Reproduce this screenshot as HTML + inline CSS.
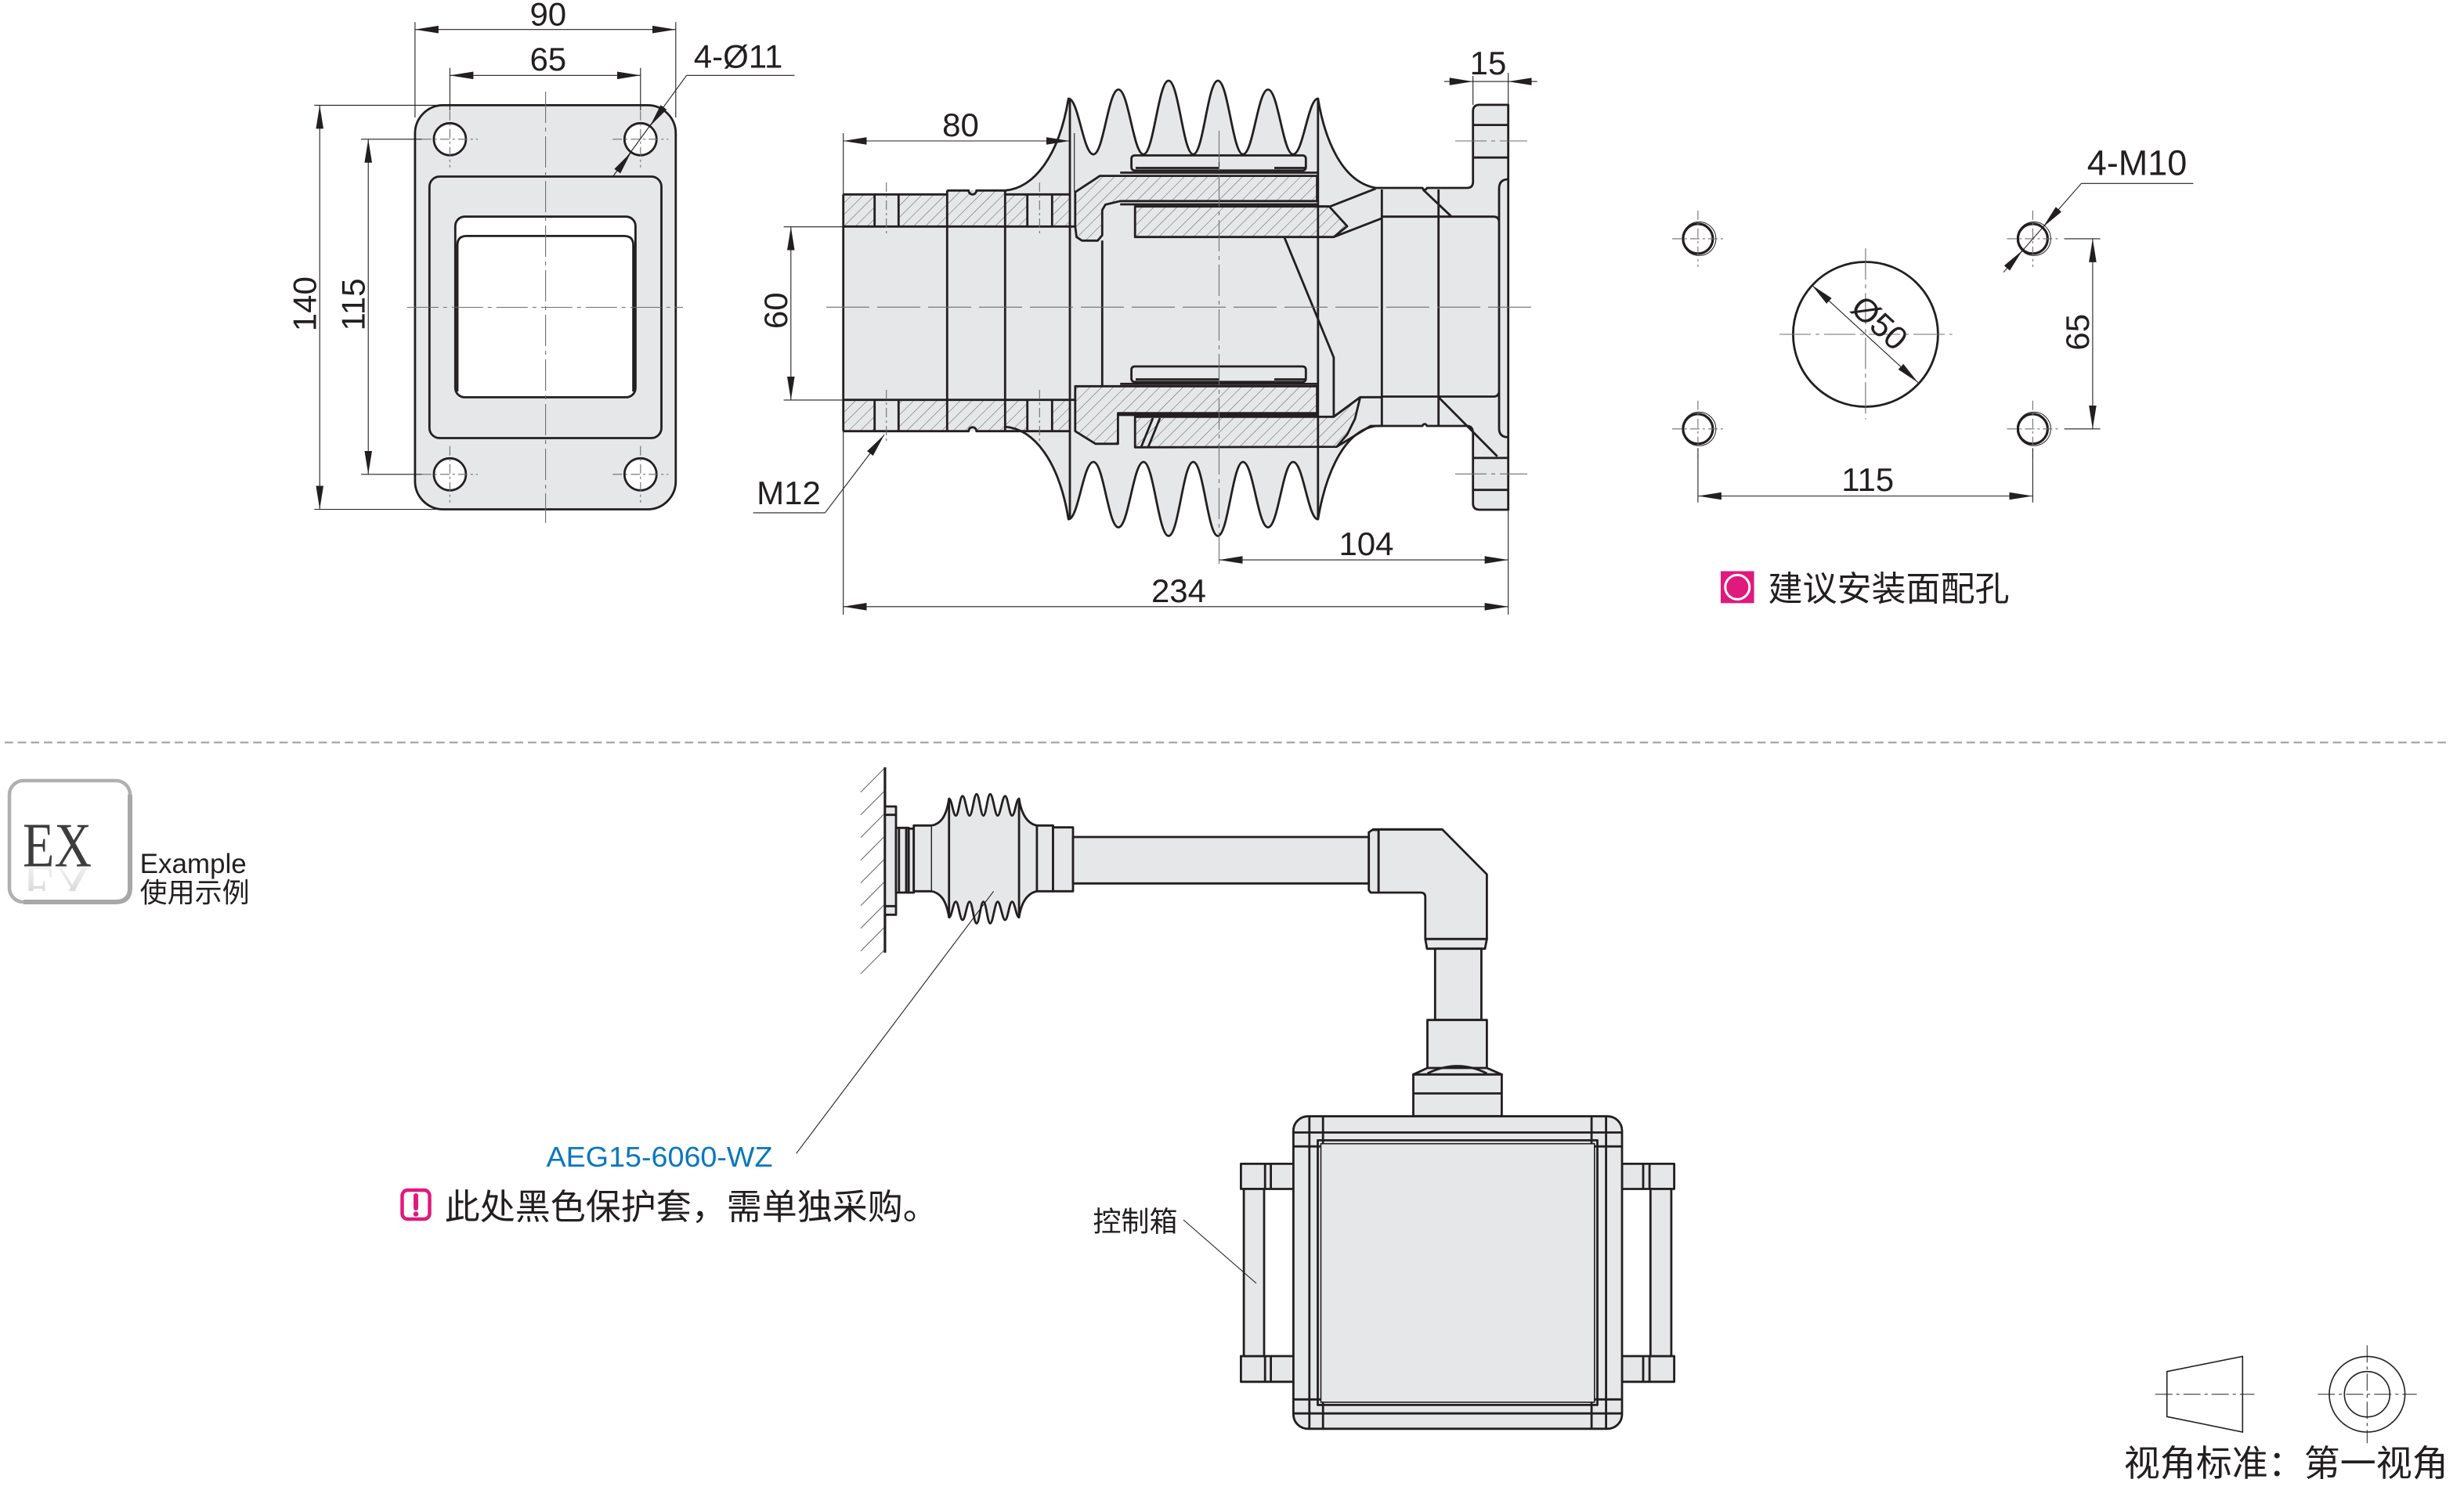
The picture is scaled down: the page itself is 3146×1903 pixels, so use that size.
<!DOCTYPE html>
<html><head><meta charset="utf-8"><style>
html,body{margin:0;padding:0;background:#fff;}
svg{display:block;}
text{font-family:"Liberation Sans","Noto Sans CJK SC",sans-serif;fill:#231f20;}
.K{fill:none;stroke:#231f20;stroke-width:2.8;stroke-linejoin:round}
.KG{fill:#e6e7e8;stroke:#231f20;stroke-width:2.8;stroke-linejoin:round}
.T{fill:none;stroke:#231f20;stroke-width:1.1}
.D{fill:none;stroke:#231f20;stroke-width:1.1;marker-start:url(#a);marker-end:url(#a)}
.E{fill:none;stroke:#231f20;stroke-width:1.1;marker-end:url(#a)}
.C{fill:none;stroke:#6d6e71;stroke-width:1.1;stroke-dasharray:40 6 5 6}
.S{fill:none;stroke:#6d6e71;stroke-width:1.1;stroke-dasharray:12 4 3 4}
.G{fill:#e6e7e8}
.H{fill:url(#h);stroke:none}
.dim{font-size:42px}
</style></head><body>
<svg width="3146" height="1903" viewBox="0 0 3146 1903" xmlns="http://www.w3.org/2000/svg">
<defs>
<marker id="a" viewBox="-30 -5 30 10" refX="0" refY="0" markerWidth="30" markerHeight="10" markerUnits="userSpaceOnUse" orient="auto-start-reverse"><path d="M0,0 L-30,-4.8 L-30,4.8 Z" fill="#231f20"/></marker>
<pattern id="h" width="10.5" height="10.5" patternUnits="userSpaceOnUse" patternTransform="rotate(45)"><line x1="0" y1="0" x2="0" y2="10.5" stroke="#58595b" stroke-width="1"/></pattern>
<linearGradient id="fade" x1="0" y1="0" x2="0" y2="1"><stop offset="0" stop-color="#bdbdbd"/><stop offset="1" stop-color="#ffffff"/></linearGradient>
<clipPath id="rc"><rect x="20" y="1108" width="140" height="30"/></clipPath>
</defs>

<!-- ================= FRONT VIEW ================= -->
<rect x="529.9" y="134.4" width="332.9" height="516.1" rx="36" class="KG"/>
<rect x="548.3" y="225.5" width="296.2" height="334" rx="13" class="K"/>
<rect x="581.3" y="276.7" width="230.1" height="230.7" rx="12" fill="#fff" stroke="#231f20" stroke-width="2.8"/>
<path d="M584,500 L584,313 Q584,301.4 596,301.4 L796.5,301.4 Q808.6,301.4 808.6,313 L808.6,500" class="K"/>
<circle cx="574.4" cy="177.8" r="20.5" fill="#fff" stroke="#231f20" stroke-width="2.8"/>
<circle cx="817.8" cy="177.8" r="20.5" fill="#fff" stroke="#231f20" stroke-width="2.8"/>
<circle cx="574.4" cy="605.8" r="20.5" fill="#fff" stroke="#231f20" stroke-width="2.8"/>
<circle cx="817.8" cy="605.8" r="20.5" fill="#fff" stroke="#231f20" stroke-width="2.8"/>
<path class="S" d="M538.8,177.8 H610 M574.4,141.8 V213.8 M782.2,177.8 H853.4 M817.8,141.8 V213.8 M538.8,605.8 H610 M574.4,569.8 V641.8 M782.2,605.8 H853.4 M817.8,569.8 V641.8"/>
<path class="C" d="M696.6,117 V668 M519.8,392.5 H872"/>
<!-- dims front -->
<path class="D" d="M529.9,37.7 H862.8"/>
<path class="T" d="M529.9,28.2 V150 M862.8,28.2 V150"/>
<text x="699.8" y="32.5" class="dim" text-anchor="middle">90</text>
<path class="D" d="M574.4,96.3 H817.8"/>
<path class="T" d="M574.4,86.7 V141 M817.8,86.7 V141"/>
<text x="699.8" y="89.8" class="dim" text-anchor="middle">65</text>
<text x="885.8" y="86.7" class="dim">4-Ø11</text>
<path class="T" d="M876.6,96.3 H1014.4 M876.6,96.3 L782.5,225.5"/>
<path class="E" d="M847.4,136.9 L829.8,161.2"/>
<path class="E" d="M788.2,218.7 L805.8,194.4"/>
<path class="D" d="M408.2,134.4 V650.5"/>
<path class="T" d="M401.3,134.4 H566 M401.3,650.5 H566"/>
<text transform="translate(403.6,388.2) rotate(-90)" class="dim" text-anchor="middle">140</text>
<path class="D" d="M470.2,177.8 V605.8"/>
<path class="T" d="M461,177.8 H538.8 M461,605.8 H538.8"/>
<text transform="translate(465.6,389) rotate(-90)" class="dim" text-anchor="middle">115</text>

<!-- ================= SIDE VIEW ================= -->
<!-- gray fills -->
<rect x="1076.7" y="248.3" width="289.3" height="302.4" class="G"/>
<rect x="1209.3" y="243.3" width="74" height="307.4" class="G"/>
<rect x="1283" y="243" width="474" height="302" class="G"/>
<path class="G" d="M1283.3,243.3 C1320,240 1352,200 1364.2,125.9 C1377,125.9 1383,197.1 1396.1,197.1 C1409,197.1 1415,114.4 1428,114.4 C1441,114.4 1447,197.1 1460,197.1 C1473,197.1 1479,103 1492,103 C1505,103 1510.5,197.1 1523.5,197.1 C1536.5,197.1 1542,103 1555,103 C1568,103 1574,197.1 1587,197.1 C1600,197.1 1606,114.4 1619,114.4 C1632,114.4 1638,197.1 1651,197.1 C1664,197.1 1670,125.9 1682.8,125.9 C1690,170 1710,232 1756.7,240 L1756.7,250 L1283.3,250 Z"/>
<path class="G" d="M1283.3,545 C1320,548 1352,588 1364.2,663.2 C1377,663.2 1383,590 1396.1,590 C1409,590 1415,673.5 1428,673.5 C1441,673.5 1447,590 1460,590 C1473,590 1479,684.5 1492,684.5 C1505,684.5 1510.5,590 1523.5,590 C1536.5,590 1542,684.5 1555,684.5 C1568,684.5 1574,590 1587,590 C1600,590 1606,673.5 1619,673.5 C1632,673.5 1638,590 1651,590 C1664,590 1670,663.2 1682.8,663.2 C1690,620 1710,551 1756.7,544 L1756.7,538 L1283.3,538 Z"/>
<path class="G" d="M1681.6,249 L1756.7,240 L1873.3,240 Q1880.7,240 1880.7,232 L1880.7,142 Q1880.7,133.9 1889,133.9 L1925.7,133.9 L1925.7,651 L1889,651 Q1880.7,651 1880.7,643 L1880.7,554 Q1880.7,544 1873.3,544 L1756.7,544 L1681.6,560 Z"/>
<!-- hatched -->
<g class="H">
<rect x="1076.7" y="248.3" width="40" height="41"/>
<rect x="1147.3" y="248.3" width="164.4" height="41"/>
<rect x="1343.3" y="248.3" width="22.7" height="41"/>
<rect x="1209.3" y="243.3" width="74" height="5"/>
<rect x="1076.7" y="510.7" width="40" height="40"/>
<rect x="1147.3" y="510.7" width="164.4" height="40"/>
<rect x="1343.3" y="510.7" width="22.7" height="40"/>
<path d="M1372.8,288.9 L1372.8,245.3 L1404.4,224.6 L1681.6,224.6 L1681.6,256.8 L1430.2,256.8 L1411.3,261.4 L1407.3,268.3 L1407.3,300.4 L1401.5,307.3 L1381.4,307.3 L1374.5,302.7 Z"/>
<path d="M1449.2,263.7 L1697.1,263.7 L1720.1,288.9 L1702.9,302.7 L1449.2,302.7 Z"/>
<path d="M1372.8,493.3 L1681.6,493.3 L1681.6,527.7 L1427.4,527.7 L1427.4,566.8 L1398.7,566.8 L1372.8,550.7 Z"/>
<path d="M1449.2,532.3 L1702.9,532.3 L1736.7,507.3 L1730,535 L1720,555 L1706.7,570.6 L1449.2,571.3 Z"/>
</g>
<!-- outlines of hatched parts -->
<path class="K" d="M1372.8,288.9 L1372.8,245.3 L1404.4,224.6 L1681.6,224.6 L1681.6,256.8 L1430.2,256.8 L1411.3,261.4 L1407.3,268.3 L1407.3,300.4 L1401.5,307.3 L1381.4,307.3 L1374.5,302.7 Z"/>
<path class="K" d="M1449.2,263.7 L1697.1,263.7 L1720.1,288.9 L1702.9,302.7 L1449.2,302.7 Z"/>
<path class="K" d="M1372.8,493.3 L1681.6,493.3 L1681.6,527.7 L1427.4,527.7 L1427.4,566.8 L1398.7,566.8 L1372.8,550.7 Z"/>
<path class="K" d="M1449.2,532.3 L1702.9,532.3 L1736.7,507.3 L1730,535 L1720,555 L1706.7,570.6 L1449.2,571.3 Z"/>
<path class="K" d="M1457,571 L1472,534 M1466,571 L1481,534" stroke-width="4"/>
<!-- bearings -->
<rect x="1444.6" y="198.5" width="222.7" height="19.3" rx="4" class="KG"/>
<rect x="1444.6" y="468" width="222.7" height="19.8" rx="4" class="KG"/>
<path class="T" d="M1556.5,198.5 V217.8 M1556.5,468 V487.8"/>
<path class="K" stroke-width="4.5" d="M1450,214.5 H1556 M1627,214.5 H1667 M1450,484.5 H1556 M1627,484.5 H1667"/>
<path class="K" stroke-width="3" d="M1430.2,220.5 H1681.6 M1430.2,261 H1681.6 M1430.2,490.3 H1681.6 M1427.4,530 H1681.6"/>
<!-- left tube lines -->
<path class="K" d="M1076.7,248.3 H1209.3 M1283.3,248.3 H1366 M1076.7,248.3 V550.7 M1076.7,550.7 H1209.3 M1283.3,550.7 H1366 M1076.7,289.3 H1372.8 M1076.7,510.7 H1372.8 M1116.7,248.3 V289.3 M1147.3,248.3 V289.3 M1311.7,248.3 V289.3 M1343.3,248.3 V289.3 M1116.7,510.7 V550.7 M1147.3,510.7 V550.7 M1311.7,510.7 V550.7 M1343.3,510.7 V550.7 M1209.3,243.3 V550.7 M1283.3,243.3 V550.7 M1366,125.9 V663.2 M1682.8,125.9 V663.2 M1407.3,307.3 V493.3"/>
<path class="K" d="M1209.3,243.3 H1236.7 A5,5 0 0 0 1246.7,243.3 H1283.3 M1209.3,550.7 H1236.7 A5,5 0 0 1 1246.7,550.7 H1283.3"/>
<path class="S" d="M1131.7,233 V302 M1327.3,233 V302 M1131.7,498 V565 M1327.3,498 V565"/>
<!-- bellows outline -->
<path class="K" d="M1283.3,243.3 C1320,240 1352,200 1364.2,125.9 C1377,125.9 1383,197.1 1396.1,197.1 C1409,197.1 1415,114.4 1428,114.4 C1441,114.4 1447,197.1 1460,197.1 C1473,197.1 1479,103 1492,103 C1505,103 1510.5,197.1 1523.5,197.1 C1536.5,197.1 1542,103 1555,103 C1568,103 1574,197.1 1587,197.1 C1600,197.1 1606,114.4 1619,114.4 C1632,114.4 1638,197.1 1651,197.1 C1664,197.1 1670,125.9 1682.8,125.9 C1690,170 1710,232 1756.7,240"/>
<path class="K" d="M1283.3,545 C1320,548 1352,588 1364.2,663.2 C1377,663.2 1383,590 1396.1,590 C1409,590 1415,673.5 1428,673.5 C1441,673.5 1447,590 1460,590 C1473,590 1479,684.5 1492,684.5 C1505,684.5 1510.5,590 1523.5,590 C1536.5,590 1542,684.5 1555,684.5 C1568,684.5 1574,590 1587,590 C1600,590 1606,673.5 1619,673.5 C1632,673.5 1638,590 1651,590 C1664,590 1670,663.2 1682.8,663.2 C1690,620 1710,551 1756.7,544"/>
<!-- right body -->
<path class="K" d="M1756.7,240 H1816 Q1819,245 1822,240 H1873.3 Q1880.7,240 1880.7,232 V142 Q1880.7,133.9 1889,133.9 H1925.7 V651 H1889 Q1880.7,651 1880.7,643 V554 Q1880.7,544 1873.3,544 H1822 Q1819,539 1816,544 H1756.7"/>
<path class="K" stroke-width="2.2" d="M1880.7,159.6 H1925.7 M1880.7,201.2 H1925.7 M1880.7,584.9 H1925.7 M1880.7,625.7 H1925.7"/>
<path class="K" d="M1764.3,242 V544 M1836.7,242 V544 M1764.3,276.7 H1906.7 Q1914,276.7 1914,284 M1764.3,506.5 H1906.7 Q1914,506.5 1914,499 M1925.7,229 Q1914,229 1914,241 V547 Q1914,558.4 1925.7,558.4 M1816.7,242 L1853.3,276.7 M1836.7,507.3 L1911.7,582.9 M1681.6,263.7 H1698.3 L1756.7,240.8 M1702.9,302.7 L1764.3,278.8 M1702.9,532.3 L1736.7,507.3 H1764.3 M1706.7,570.6 L1750,544 H1764.3 M1639.7,302.7 L1702.9,456.5 V532.3"/>
<path class="C" d="M1858,180 H1950 M1858,605.3 H1950 M1556.5,167 V723"/>
<path fill="none" stroke="#6d6e71" stroke-width="1.1" stroke-dasharray="55 10" d="M1055,392.3 H1955"/>
<!-- side dims -->
<path class="D" d="M1076.7,180 H1366"/>
<path class="T" d="M1076.7,170 V248 M1371.7,170 V245"/>
<text x="1226.5" y="174" class="dim" text-anchor="middle">80</text>
<path class="D" d="M1009.8,289.7 V510.9"/>
<path class="T" d="M1000.6,289.7 H1076.7 M1000.6,510.9 H1076.7"/>
<text transform="translate(1005.2,396.8) rotate(-90)" class="dim" text-anchor="middle">60</text>
<path class="E" d="M1844,104.1 H1880.7"/>
<path class="E" d="M1962.7,104.1 H1925.7"/>
<path class="T" d="M1880.7,104.1 H1925.7 M1880.7,97 V134 M1925.7,93 V134 M1925.7,651 V785 M1076.7,551 V785"/>
<text x="1900" y="95" class="dim" text-anchor="middle">15</text>
<path class="D" d="M1556.5,715.1 H1925.6"/>
<text x="1744.5" y="709" class="dim" text-anchor="middle">104</text>
<path class="D" d="M1076.7,774.8 H1925.6"/>
<text x="1505" y="768.8" class="dim" text-anchor="middle">234</text>
<text x="966.1" y="644" class="dim">M12</text>
<path class="T" d="M961.6,654.9 H1053.4"/>
<path class="E" d="M1053.4,654.9 L1129,555.3"/>

<!-- ================= MOUNTING HOLES VIEW ================= -->
<g>
<circle cx="2167.9" cy="304.9" r="19" fill="#fff" stroke="#231f20" stroke-width="3.2"/>
<circle cx="2169.4" cy="304.9" r="21.5" fill="none" stroke="#231f20" stroke-width="1"/>
<circle cx="2595.4" cy="304.9" r="19" fill="#fff" stroke="#231f20" stroke-width="3.2"/>
<circle cx="2596.9" cy="304.9" r="21.5" fill="none" stroke="#231f20" stroke-width="1"/>
<circle cx="2167.9" cy="547.8" r="19" fill="#fff" stroke="#231f20" stroke-width="3.2"/>
<circle cx="2169.4" cy="547.8" r="21.5" fill="none" stroke="#231f20" stroke-width="1"/>
<circle cx="2595.4" cy="547.8" r="19" fill="#fff" stroke="#231f20" stroke-width="3.2"/>
<circle cx="2596.9" cy="547.8" r="21.5" fill="none" stroke="#231f20" stroke-width="1"/>
<path class="S" d="M2134.9,304.9 H2200.9 M2167.9,268.9 V340.9 M2562.4,304.9 H2628.4 M2595.4,268.9 V340.9 M2134.9,547.8 H2200.9 M2167.9,511.8 V583.8 M2562.4,547.8 H2628.4 M2595.4,511.8 V583.8"/>
<circle cx="2381.9" cy="427" r="92.5" fill="none" stroke="#231f20" stroke-width="2.8"/>
<path class="C" d="M2272,427 H2492.6 M2381.9,317.2 V535.5"/>
<path class="D" d="M2313.3,364.1 L2449,488.6"/>
<text transform="translate(2390,423) rotate(42.5)" class="dim" text-anchor="middle">Ø50</text>
<text x="2664.7" y="223.3" font-size="45">4-M10</text>
<path class="T" d="M2657.4,234.3 H2800.4 M2657.4,234.3 L2558,347.8"/>
<path class="E" d="M2628.4,267.4 L2608.6,289.9"/>
<path class="E" d="M2562.4,342.4 L2582.2,319.9"/>
<path class="D" d="M2671.9,304.9 V547.8"/>
<path class="T" d="M2635.6,304.9 H2681.6 M2635.6,547.8 H2681.6 M2167.9,572.3 V641.7 M2595.4,572.3 V641.7"/>
<text transform="translate(2667,424.3) rotate(-90)" class="dim" text-anchor="middle">65</text>
<path class="D" d="M2167.9,633.5 H2595.4"/>
<text x="2384.7" y="627" class="dim" text-anchor="middle">115</text>
<rect x="2197" y="729.5" width="42.6" height="40.8" fill="#e0197d"/>
<circle cx="2218.3" cy="749.9" r="15.5" fill="none" stroke="#fff" stroke-width="3"/>
<text x="2257.5" y="767" font-size="44">建议安装面配孔</text>
</g>

<!-- separator -->
<path d="M6,948.3 H3125" stroke="#a0a0a0" stroke-width="2.2" stroke-dasharray="10.7 6" fill="none"/>

<!-- ================= EX ICON ================= -->
<rect x="12" y="997" width="154" height="155" rx="18" fill="#fff" stroke="#b0b0b0" stroke-width="4.5"/>
<path d="M166,1015 V1134 Q166,1152 148,1152 H30" fill="none" stroke="#a8a8a8" stroke-width="6"/>
<text x="29" y="1106.7" font-family="'Liberation Serif',serif" font-size="80" textLength="88" lengthAdjust="spacingAndGlyphs" style="font-family:'Liberation Serif',serif;fill:#3d3d3d">EX</text>
<g clip-path="url(#rc)"><text transform="translate(0,2213.4) scale(1,-1)" x="29" y="1106.7" font-size="80" textLength="88" lengthAdjust="spacingAndGlyphs" style="font-family:'Liberation Serif',serif;fill:url(#fade)">EX</text></g>
<text x="178.6" y="1115" font-size="35">Example</text>
<text x="178.6" y="1152.5" font-size="35">使用示例</text>

<!-- ================= ASSEMBLY ================= -->
<path d="M1129.9,980 V1216.7" stroke="#231f20" stroke-width="3.2" fill="none"/>
<path stroke="#58595b" stroke-width="1" fill="none" d="M1099,1011.7 L1128.8,981.7 M1099,1040.7 L1128.8,1010.7 M1099,1069.7 L1128.8,1039.7 M1099,1098.7 L1128.8,1068.7 M1099,1127.7 L1128.8,1097.7 M1099,1156.7 L1128.8,1126.7 M1099,1185.7 L1128.8,1155.7 M1099,1214.7 L1128.8,1184.7 M1099,1243.7 L1128.8,1213.7"/>
<rect x="1129.9" y="1030" width="14.1" height="138.3" class="KG"/>
<path class="K" stroke-width="2" d="M1129.9,1040.7 H1144 M1129.9,1157.3 H1144"/>
<rect x="1144" y="1057.3" width="16.2" height="82.7" class="KG"/>
<path class="K" stroke-width="1.8" d="M1147.8,1057.3 V1140 M1157,1057.3 V1140"/>
<rect x="1160.2" y="1058.3" width="6.5" height="81.7" class="KG"/>
<rect x="1166.7" y="1054.3" width="23.3" height="84" class="KG"/>
<!-- small bellows -->
<rect x="1190" y="1054" width="134" height="85" class="G"/>
<path class="G" d="M1190,1054.3 C1200,1052 1208,1045 1211.7,1020 C1215.2,1020 1216.9,1041.7 1220.4,1041.7 C1223.9,1041.7 1225.5,1016.7 1229,1016.7 C1232.5,1016.7 1234.5,1041.7 1238,1041.7 C1241.5,1041.7 1243.4,1014.3 1246.9,1014.3 C1250.4,1014.3 1252.1,1041.7 1255.6,1041.7 C1259.1,1041.7 1260.8,1014.3 1264.3,1014.3 C1267.8,1014.3 1270.3,1041.7 1273.8,1041.7 C1277.3,1041.7 1279.8,1016.7 1283.3,1016.7 C1286.8,1016.7 1288.7,1041.7 1292.2,1041.7 C1295.7,1041.7 1297.6,1020 1301.1,1020 C1304,1040 1312,1052 1323.9,1054.3 L1323.9,1060 L1190,1060 Z"/>
<path class="G" d="M1190,1138.3 C1200,1141 1208,1148 1211.7,1171.7 C1215.2,1171.7 1216.9,1151.7 1220.4,1151.7 C1223.9,1151.7 1225.5,1175 1229,1175 C1232.5,1175 1234.5,1151.7 1238,1151.7 C1241.5,1151.7 1243.4,1179.3 1246.9,1179.3 C1250.4,1179.3 1252.1,1151.7 1255.6,1151.7 C1259.1,1151.7 1260.8,1179.3 1264.3,1179.3 C1267.8,1179.3 1270.3,1151.7 1273.8,1151.7 C1277.3,1151.7 1279.8,1175 1283.3,1175 C1286.8,1175 1288.7,1151.7 1292.2,1151.7 C1295.7,1151.7 1297.6,1171.7 1301.1,1171.7 C1304,1152 1312,1141 1323.9,1138.3 L1323.9,1132 L1190,1132 Z"/>
<path class="K" d="M1190,1054.3 C1200,1052 1208,1045 1211.7,1020 C1215.2,1020 1216.9,1041.7 1220.4,1041.7 C1223.9,1041.7 1225.5,1016.7 1229,1016.7 C1232.5,1016.7 1234.5,1041.7 1238,1041.7 C1241.5,1041.7 1243.4,1014.3 1246.9,1014.3 C1250.4,1014.3 1252.1,1041.7 1255.6,1041.7 C1259.1,1041.7 1260.8,1014.3 1264.3,1014.3 C1267.8,1014.3 1270.3,1041.7 1273.8,1041.7 C1277.3,1041.7 1279.8,1016.7 1283.3,1016.7 C1286.8,1016.7 1288.7,1041.7 1292.2,1041.7 C1295.7,1041.7 1297.6,1020 1301.1,1020 C1304,1040 1312,1052 1323.9,1054.3"/>
<path class="K" d="M1190,1138.3 C1200,1141 1208,1148 1211.7,1171.7 C1215.2,1171.7 1216.9,1151.7 1220.4,1151.7 C1223.9,1151.7 1225.5,1175 1229,1175 C1232.5,1175 1234.5,1151.7 1238,1151.7 C1241.5,1151.7 1243.4,1179.3 1246.9,1179.3 C1250.4,1179.3 1252.1,1151.7 1255.6,1151.7 C1259.1,1151.7 1260.8,1179.3 1264.3,1179.3 C1267.8,1179.3 1270.3,1151.7 1273.8,1151.7 C1277.3,1151.7 1279.8,1175 1283.3,1175 C1286.8,1175 1288.7,1151.7 1292.2,1151.7 C1295.7,1151.7 1297.6,1171.7 1301.1,1171.7 C1304,1152 1312,1141 1323.9,1138.3"/>
<path class="K" d="M1211.7,1020 V1171.7 M1301.1,1020 V1171.7"/>
<rect x="1323.9" y="1054.3" width="20.6" height="84" class="KG"/>
<rect x="1344.5" y="1056.7" width="25.5" height="81.6" class="KG"/>
<rect x="1370" y="1069" width="377.7" height="59.3" class="KG"/>
<path class="KG" d="M1747.7,1063 L1752,1060 L1760.2,1060 L1760.2,1140 L1750,1140 L1747.7,1137 Z"/>
<path class="KG" d="M1760.2,1059.3 L1841.5,1059.3 L1898.4,1116.7 L1898.4,1199.3 L1819.8,1199.3 L1819.8,1146 Q1819.8,1140 1814,1140 L1760.2,1140 Z"/>
<path class="K" stroke-width="4.5" d="M1752,1059.3 H1841.5"/>
<path class="KG" d="M1819.8,1199.3 L1898.4,1199.3 L1896,1211.7 L1822,1211.7 Z"/>
<rect x="1832.3" y="1211.7" width="59.1" height="91" class="KG"/>
<rect x="1822.5" y="1302.7" width="75.9" height="67" class="KG"/>
<path class="KG" d="M1804.5,1372.3 L1822.5,1364 L1898.4,1364 L1917.4,1372.3 Z"/>
<path class="K" d="M1822.5,1371 Q1861,1352 1898.4,1371"/>
<rect x="1804.5" y="1372.3" width="112.9" height="53.4" class="KG"/>
<path class="K" d="M1804.5,1396.5 H1917.4"/>
<!-- control box -->
<rect x="1584.4" y="1486.4" width="67" height="32.1" class="KG"/>
<rect x="1584.4" y="1732" width="67" height="32.8" class="KG"/>
<rect x="1588.1" y="1518.5" width="25.9" height="213.5" class="KG"/>
<path class="K" stroke-width="2.2" d="M1615.2,1486.4 V1518.5 M1622.6,1486.4 V1518.5 M1615.2,1732 V1764.8 M1622.6,1732 V1764.8"/>
<rect x="2071" y="1486.4" width="66.6" height="32.1" class="KG"/>
<rect x="2071" y="1732" width="66.6" height="32.8" class="KG"/>
<rect x="2107.3" y="1518.5" width="26.6" height="213.5" class="KG"/>
<path class="K" stroke-width="2.2" d="M2098,1486.4 V1518.5 M2106.1,1486.4 V1518.5 M2098,1732 V1764.8 M2106.1,1732 V1764.8"/>
<rect x="1651.4" y="1425.7" width="419.6" height="399.1" rx="18.5" class="KG"/>
<path class="K" stroke-width="2.2" d="M1671.8,1425.7 V1824.8 M1689.2,1425.7 V1824.8 M2032.1,1425.7 V1824.8 M2050.6,1425.7 V1824.8 M1651.4,1446.4 H2071 M1651.4,1464.2 H2071 M1651.4,1787.3 H2071 M1651.4,1805.2 H2071"/>
<rect x="1682.5" y="1456.4" width="357" height="338" class="K" stroke-width="3.8"/>
<rect x="1686.5" y="1460.7" width="349.3" height="330.2" fill="#e6e7e8" stroke="#231f20" stroke-width="1.6"/>
<!-- leaders & labels -->
<path class="T" d="M1016.6,1473.3 L1268.6,1138.3 M1511,1558 L1604,1639"/>
<text x="697.5" y="1490" font-size="36" textLength="289" lengthAdjust="spacingAndGlyphs" style="fill:#0a77bd">AEG15-6060-WZ</text>
<rect x="513.5" y="1520" width="35" height="37" rx="7" fill="none" stroke="#e0197d" stroke-width="4.5"/>
<path d="M531,1527 V1543" stroke="#e0197d" stroke-width="6" stroke-linecap="round"/>
<circle cx="531" cy="1550.5" r="3.3" fill="#e0197d"/>
<text x="567.7" y="1557" font-size="45">此处黑色保护套，需单独采购。</text>
<text x="1395.5" y="1572.5" font-size="36">控制箱</text>

<!-- ================= VIEW SYMBOL ================= -->
<path d="M2766.7,1751.7 L2863.3,1732.3 L2863.3,1829 L2766.7,1809.3 Z" fill="none" stroke="#231f20" stroke-width="1.6"/>
<path fill="none" stroke="#231f20" stroke-width="1" stroke-dasharray="22 5 4 5" d="M2751.7,1780.7 H2878.3"/>
<circle cx="3022.3" cy="1780.7" r="48.3" fill="none" stroke="#231f20" stroke-width="1.6"/>
<circle cx="3022.3" cy="1780.7" r="29" fill="none" stroke="#231f20" stroke-width="1.6"/>
<path fill="none" stroke="#231f20" stroke-width="1" stroke-dasharray="22 5 4 5" d="M2959.3,1780.7 H3085.7 M3022.3,1718.3 V1843.3"/>
<text x="2711.7" y="1885" font-size="46">视角标准：第一视角</text>
</svg>
</body></html>
